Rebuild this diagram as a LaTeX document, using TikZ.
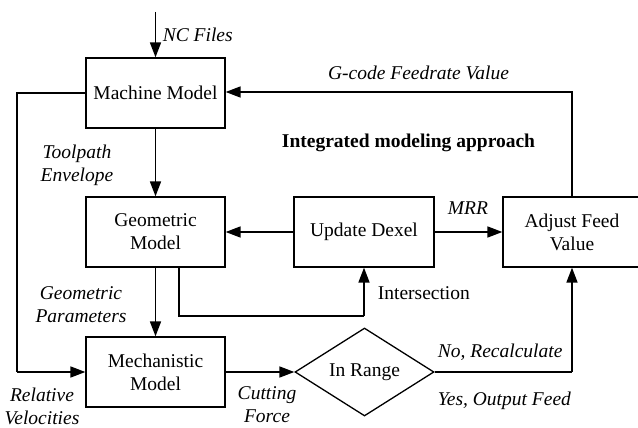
\documentclass[tikz,border=0pt]{standalone}
\usepackage{fontspec}
\setmainfont{Liberation Serif}
\usetikzlibrary{arrows.meta,shapes.geometric}
\begin{document}
\begin{tikzpicture}[x=1pt,y=-1pt,
  font=\fontsize{19.5}{23}\selectfont,
  line width=1.7pt,
  flow/.style={-{Triangle[length=15pt,width=11pt]}},
  blockbox/.style={draw, line width=1.3pt, minimum width=139pt, minimum height=70pt, align=center, inner sep=0pt},
  decision/.style={draw, line width=1.3pt, diamond, minimum width=139pt, minimum height=88pt, inner sep=0pt},
  lbl/.style={font=\fontsize{19.5}{23}\selectfont\itshape, align=center, inner sep=0pt}]
\useasboundingbox (0,0) rectangle (638,428);
\clip (0,0) rectangle (638,428);

% blocks
\node[blockbox] (mach) at (155.5,93) {Machine Model};
\node[blockbox] (geo) at (155.5,232) {Geometric\\Model};
\node[blockbox] (mech) at (155.5,372) {Mechanistic\\Model};
\node[blockbox, minimum width=140pt] (dexel) at (364,232) {Update Dexel};
\node[blockbox, minimum width=138pt] (adjust) at (572,232) {Adjust Feed\\Value};
\node[decision] (range) at (364.5,372) {In Range};

% helper points
\coordinate (src) at (155.5,12);
\coordinate (tl) at (17,93);
\coordinate (bl) at (17,372);
\coordinate (tr) at (572,92);
\coordinate (isect) at (179,316);
\coordinate (isectR) at (364,316);
\coordinate (br) at (572,372);

% connectors
\draw[flow] (src) -- (mach.north);
\draw[flow] (mach.south) -- (geo.north);
\draw[flow] (geo.south) -- (mech.north);
\draw[flow] (dexel.west) -- (geo.east);
\draw[flow] (dexel.east) -- (adjust.west);
\draw[flow] (adjust.north) -- (tr) -- (mach.east |- tr);
\draw (mach.west) -- (tl) -- (bl);
\draw[flow] (bl) -- (mech.west);
\draw (geo.south -| isect) -- (isect) -- (isectR);
\draw[flow] (isectR) -- (dexel.south);
\draw[flow] (mech.east) -- (range.west);
\draw (range.east) -- (br);
\draw[flow] (br) -- (adjust.south);

% labels
\node[lbl, anchor=west] (ncf) at (162,35) {NC Files};
\node[lbl] (gcode) at (418.5,73) {G-code Feedrate Value};
\node[font=\fontsize{19.5}{23}\selectfont\bfseries, inner sep=0pt] (title) at (408.5,143) {Integrated modeling approach};
\node[lbl] (tpe) at (77,165) {Toolpath\\Envelope};
\node[lbl] (mrr) at (468,208) {MRR};
\node[font=\fontsize{19.5}{23}\selectfont, inner sep=0pt, anchor=west] (isl) at (377,293) {Intersection};
\node[lbl] (gpar) at (81,305) {Geometric\\Parameters};
\node[lbl] (relv) at (42,406) {Relative\\Velocities};
\node[lbl] (cutf) at (267,405) {Cutting\\Force};
\node[lbl, anchor=west] (norec) at (437,352) {No, Recalculate};
\node[lbl, anchor=west] (yes) at (437,401) {Yes, Output Feed};
\end{tikzpicture}
\end{document}
